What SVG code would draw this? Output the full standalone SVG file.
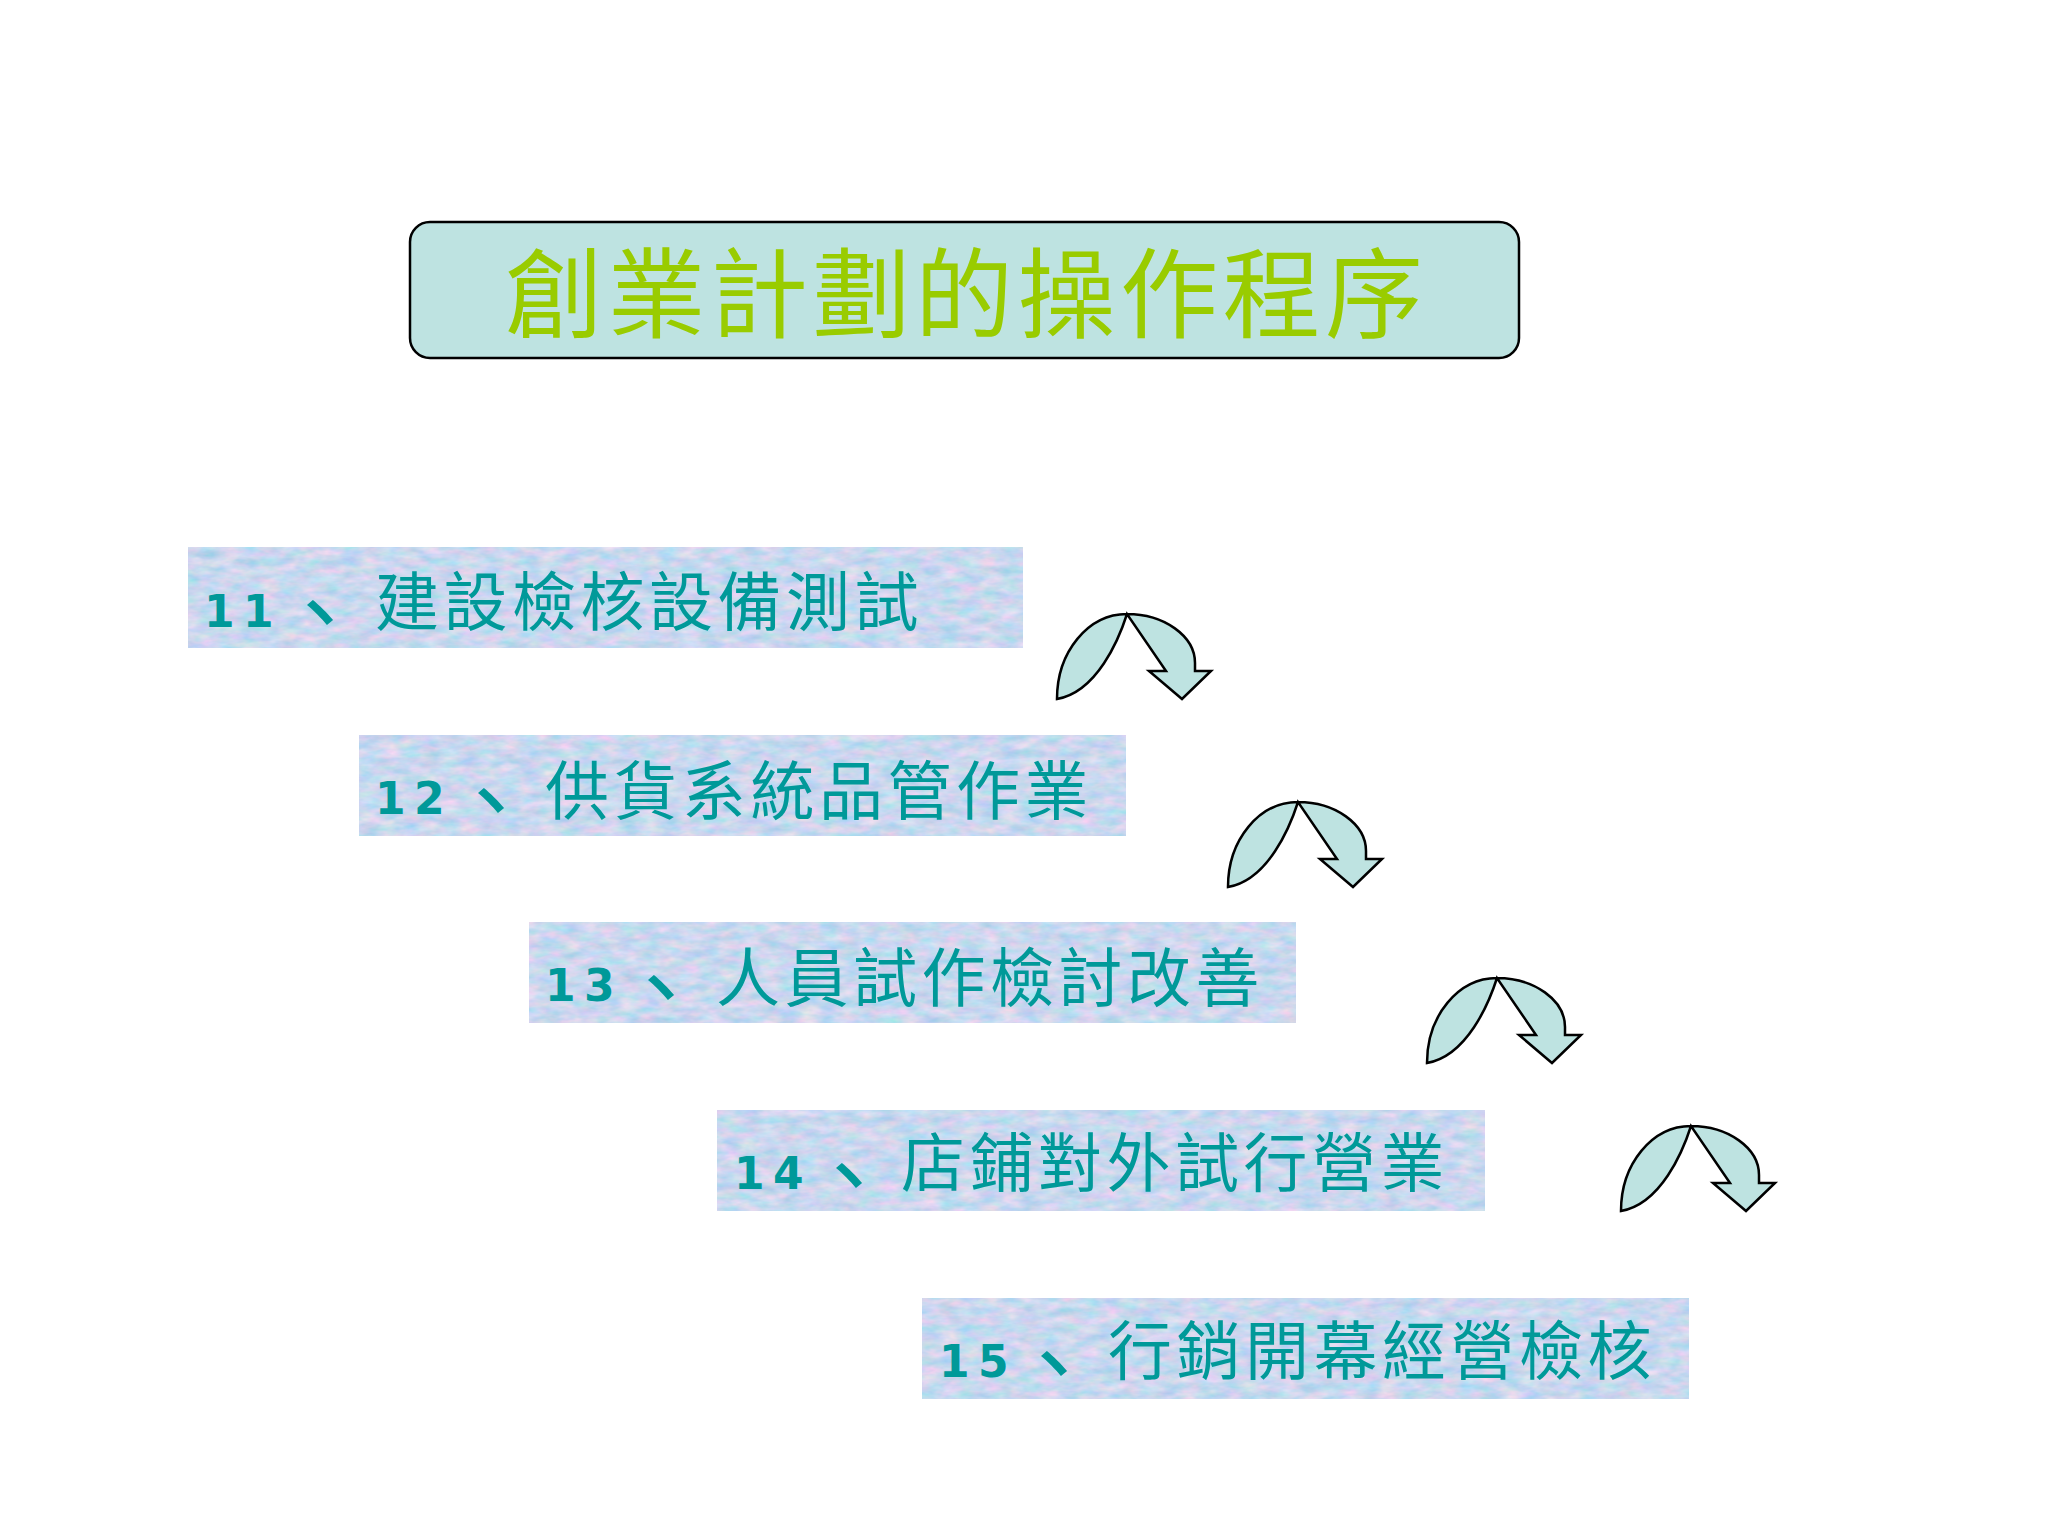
<svg xmlns="http://www.w3.org/2000/svg" xmlns:xlink="http://www.w3.org/1999/xlink" width="2048" height="1536" viewBox="0 0 2048 1536">
<defs>
<style>
.bg{fill:#ffffff}
.titlebox{fill:#bee3e1;stroke:#000;stroke-width:2.5}
.title{font-family:"Noto Sans CJK TC","Noto Sans CJK SC",sans-serif;font-size:98px;fill:#99cc00;letter-spacing:4.5px}
.step{fill:#c8dcf0;filter:url(#tex)}
.line{fill:#009999}
.num{font-family:"DejaVu Sans",sans-serif;font-weight:bold;font-size:44px}
.comma{font-family:"Noto Sans CJK TC","Noto Sans CJK SC",sans-serif;font-size:90px}
.label{font-family:"Noto Sans CJK TC","Noto Sans CJK SC",sans-serif;font-size:64px;letter-spacing:4.5px}
.arrow{fill:#bee3e1;stroke:#000;stroke-width:2.5;stroke-linejoin:miter}
</style>
<filter id="tex" x="0" y="0" width="100%" height="100%" color-interpolation-filters="sRGB">
<feTurbulence type="fractalNoise" baseFrequency="0.05 0.12" numOctaves="3" seed="4" result="n"/>
<feColorMatrix in="n" type="matrix" values="0.42 0 0 0 0.58  0 0.15 0 0 0.77  0 0 0.1 0 0.885  0 0 0 0 1" result="c"/>
<feComposite in="c" in2="SourceGraphic" operator="in"/>
</filter>
<path id="curvedArrow" class="arrow" d="M0,85 C0,38 31,0 70,0 C107,0 138,22 138,49 L138,57 L154,57 L125,85 L92,57 L109,57 L70,0 C62,25 40,78 0,85 Z"/>
</defs>
<rect class="bg" x="0" y="0" width="2048" height="1536"/>

<g id="title">
<rect class="titlebox" x="410" y="222" width="1109" height="136" rx="20" ry="20"/>
<text class="title" x="505" y="330">創業計劃的操作程序</text>
</g>

<g id="step11">
<rect class="step" x="188" y="547" width="835" height="101"/>
<text class="line"><tspan class="num" x="204 243" y="627">11</tspan><tspan class="comma" x="275" y="646">、</tspan><tspan class="label" x="375" y="625">建設檢核設備測試</tspan></text>
</g>

<g id="step12">
<rect class="step" x="359" y="735" width="767" height="101"/>
<text class="line"><tspan class="num" x="375 414" y="814">12</tspan><tspan class="comma" x="446" y="834">、</tspan><tspan class="label" x="545" y="814">供貨系統品管作業</tspan></text>
</g>

<g id="step13">
<rect class="step" x="529" y="922" width="767" height="101"/>
<text class="line"><tspan class="num" x="545 584" y="1001">13</tspan><tspan class="comma" x="616" y="1021">、</tspan><tspan class="label" x="716" y="1001">人員試作檢討改善</tspan></text>
</g>

<g id="step14">
<rect class="step" x="717" y="1110" width="768" height="101"/>
<text class="line"><tspan class="num" x="734 773" y="1189">14</tspan><tspan class="comma" x="804" y="1209">、</tspan><tspan class="label" x="901" y="1186">店鋪對外試行營業</tspan></text>
</g>

<g id="step15">
<rect class="step" x="922" y="1298" width="767" height="101"/>
<text class="line"><tspan class="num" x="939 978" y="1377">15</tspan><tspan class="comma" x="1009" y="1397">、</tspan><tspan class="label" x="1108" y="1374">行銷開幕經營檢核</tspan></text>
</g>

<g id="connectors">
<use xlink:href="#curvedArrow" href="#curvedArrow" transform="translate(1057,614)"/>
<use xlink:href="#curvedArrow" href="#curvedArrow" transform="translate(1228,802)"/>
<use xlink:href="#curvedArrow" href="#curvedArrow" transform="translate(1427,978)"/>
<use xlink:href="#curvedArrow" href="#curvedArrow" transform="translate(1621,1126)"/>
</g>
</svg>
